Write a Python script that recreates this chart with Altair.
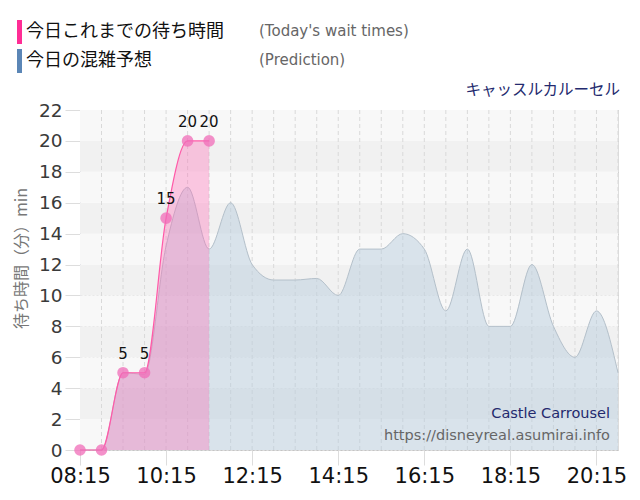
import altair as alt
import pandas as pd

# ---- data ----
today_times = ["08:15", "08:45", "09:15", "09:45", "10:15", "10:45", "11:15"]
today_wait = [0, 0, 5, 5, 15, 20, 20]

pred_times = ["08:15", "08:45", "09:15", "09:45", "10:15", "10:45", "11:15", "11:45",
              "12:15", "12:45", "13:15", "13:45", "14:15", "14:45", "15:15", "15:45",
              "16:15", "16:45", "17:15", "17:45", "18:15", "18:45", "19:15", "19:45",
              "20:15", "20:45"]
pred_wait = [0, 0, 5, 4.9, 13.2, 17, 13, 16, 12, 11, 11, 11.1, 10, 13, 13, 14,
             13, 9, 13, 8, 8, 12, 8, 6, 9, 5]

x_ticks = ["08:15", "10:15", "12:15", "14:15", "16:15", "18:15", "20:15"]
y_ticks = [0, 2, 4, 6, 8, 10, 12, 14, 16, 18, 20, 22]

legend_today = "今日これまでの待ち時間"
legend_today_en = "(Today's wait times)"
legend_pred = "今日の混雑予想"
legend_pred_en = "(Prediction)"
ride_jp = "キャッスルカルーセル"
ride_en = "Castle Carrousel"
site = "https://disneyreal.asumirai.info"
y_title = "待ち時間（分）min"


def to_min(t):
    h, m = t.split(":")
    return int(h) * 60 + int(m)


today = pd.DataFrame({"t": [to_min(t) for t in today_times], "w": today_wait})
today["label"] = [str(v) if v > 0 else "" for v in today_wait]
pred = pd.DataFrame({"t": [to_min(t) for t in pred_times], "w": pred_wait})
xmin, xmax = to_min(pred_times[0]), to_min(pred_times[-1])
bands = pd.DataFrame({"y0": y_ticks[:-1], "y1": y_ticks[1:]})
bands["shade"] = [i % 2 for i in range(len(bands))]
vgrid = pd.DataFrame({"t": [to_min(t) for t in pred_times[1:]]})

xs = alt.Scale(domain=[xmin, xmax], nice=False, zero=False)
ys = alt.Scale(domain=[0, 22], nice=False)

label_expr = ("(floor(datum.value/60)<10?'0':'')+floor(datum.value/60)+':'+"
              "((datum.value%60)<10?'0':'')+(datum.value%60)")

x_axis = alt.Axis(values=[to_min(t) for t in x_ticks], labelExpr=label_expr, title=None,
                  grid=False, domain=False, tickSize=15, tickColor="#dddddd",
                  labelFontSize=21, labelFont="DejaVu Sans", labelColor="#111111",
                  labelPadding=0, labelOverlap=False, labelFlush=False)
y_axis = alt.Axis(values=y_ticks, title=y_title, grid=True, gridDash=[2, 2],
                  gridColor="#c4c4c4", tickSize=15, tickColor="#dddddd",
                  domainColor="#b8b8c8", labelFontSize=18.5, labelFont="DejaVu Sans",
                  labelColor="#3a3a3a", labelPadding=3, labelOverlap=False,
                  labelFlush=False, titleFont="Noto Sans CJK JP",
                  titleFontSize=16, titleFontWeight="normal", titleColor="#777777",
                  titlePadding=9, titleY=148)

X = alt.X("t:Q", scale=xs, axis=x_axis)
Y = alt.Y("w:Q", scale=ys, axis=y_axis)

base_bands = alt.Chart(bands).mark_rect().encode(
    x=alt.value(0), x2=alt.value(538),
    y=alt.Y("y0:Q", scale=ys, axis=y_axis), y2="y1:Q",
    color=alt.Color("shade:N", scale=alt.Scale(domain=[0, 1], range=["#f8f8f8", "#f1f1f1"]),
                    legend=None),
)

grid_rules = alt.Chart(vgrid).mark_rule(color="#d9d9d9", strokeDash=[4, 3], strokeWidth=1).encode(
    x=X
)

pred_area = alt.Chart(pred).mark_area(
    interpolate="monotone", color="#b9cddd", opacity=0.5,
    line={"color": "#b4c0ca", "strokeWidth": 1}
).encode(x=X, y=Y)

today_area = alt.Chart(today).mark_area(
    interpolate="monotone", color="#ff69b4", opacity=0.35
).encode(x=X, y=Y)

today_line = alt.Chart(today).mark_line(
    interpolate="monotone", color="#ff5aa8", strokeWidth=1.2
).encode(x=X, y=Y)

today_pts = alt.Chart(today).mark_circle(size=135, color="#f06cb8", opacity=0.75).encode(
    x=X, y=Y)

today_lbl = alt.Chart(today).mark_text(dy=-19, fontSize=15, font="DejaVu Sans",
                                        color="#111111").encode(
    x=X, y=Y, text="label:N")


def txt(s, x, y, size, color, font, align="left"):
    return alt.Chart(pd.DataFrame({"s": [s]})).mark_text(
        align=align, baseline="middle", fontSize=size, color=color, font=font
    ).encode(x=alt.value(x), y=alt.value(y), text="s:N")


def bar(x, y, color):
    return alt.Chart(pd.DataFrame({"a": [0]})).mark_rect(color=color).encode(
        x=alt.value(x), x2=alt.value(x + 5), y=alt.value(y), y2=alt.value(y + 24))


annots = [
    bar(-63, -90, "#ff2d95"),
    txt(legend_today, -54, -78, 18, "#111111", "Noto Sans CJK JP"),
    txt(legend_today_en, 179, -79, 15, "#666666", "DejaVu Sans"),
    bar(-63, -61, "#5b86b6"),
    txt(legend_pred, -54, -49, 18, "#111111", "Noto Sans CJK JP"),
    txt(legend_pred_en, 179, -50, 15, "#666666", "DejaVu Sans"),
    txt(ride_jp, 540, -20, 15.5, "#232a6e", "Noto Sans CJK JP", "right"),
    txt(ride_en, 530, 304, 14.5, "#232a6e", "DejaVu Sans", "right"),
    txt(site, 530, 326, 14.5, "#666666", "DejaVu Sans", "right"),
]

chart = alt.layer(
    base_bands, grid_rules, pred_area, today_area, today_line, today_pts, today_lbl, *annots
).properties(
    width=538, height=340,
    autosize=alt.AutoSizeParams(type="none"),
    padding={"left": 72, "top": 102, "right": 12, "bottom": 38},
).configure_view(strokeWidth=0).configure(background="white")

chart.save("out.html", embed_options={"renderer": "svg", "actions": False})
